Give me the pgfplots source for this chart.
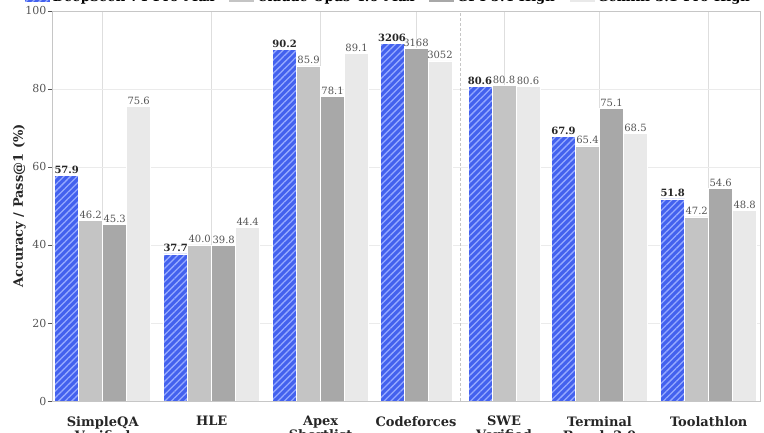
\documentclass[border=0pt]{standalone}
\usepackage{fontspec}
\setmainfont{DejaVu Serif}
\usepackage{pgfplots}
\pgfplotsset{compat=1.18}
\usetikzlibrary{patterns.meta}
\definecolor{dsblue}{RGB}{67,97,238}
\definecolor{dshatch}{RGB}{150,170,255}
\definecolor{claude}{RGB}{196,196,196}
\definecolor{gpt}{RGB}{168,168,168}
\definecolor{gem}{RGB}{233,233,233}
\definecolor{txtgray}{RGB}{85,85,85}
\definecolor{gridc}{RGB}{222,222,222}
\begin{document}
\begin{tikzpicture}
\begin{axis}[
  at={(0,0)}, anchor=south west,
  scale only axis, width=708pt, height=390pt,
  xmin=0, xmax=708, ymin=0, ymax=100,
  enlargelimits=false,
  ytick={0,20,40,60,80,100},
  ytick pos=left,
  xtick={50.7,159.7,268.6,364,452,547.5,656.7},
  xticklabels={
    {SimpleQA\\Verified},
    {HLE\\{\fontsize{8}{9}\selectfont\mdseries\textcolor{txtgray}{(Pass@1)}}},
    {Apex\\Shortlist},
    {Codeforces\\{\fontsize{8}{9}\selectfont\mdseries\textcolor{txtgray}{(Rating)}}},
    {SWE\\Verified},
    {Terminal\\Bench 2.0},
    {Toolathlon\\{\fontsize{8}{9}\selectfont\mdseries\textcolor{txtgray}{(Pass@1)}}}},
  xtick style={draw=none},
  ytick style={color=txtgray, line width=0.8pt},
  major tick length=4pt,
  tick align=outside,
  axis line style={draw=gray!45, line width=0.8pt},
  xmajorgrids, ymajorgrids,
  x grid style={gridc, line width=0.8pt},
  y grid style={gridc!60, line width=0.6pt},
  /pgf/number format/assume math mode=true,
  yticklabel style={font=\fontsize{11}{13}\selectfont, text=txtgray, inner sep=1.5pt},
  xticklabel style={align=center, font=\fontsize{13}{14}\selectfont\bfseries, inner sep=0pt, yshift=-11pt, text=black!85},
  ylabel={Accuracy / Pass@1 (\%)},
  every axis y label/.style={at={(axis description cs:-0.046,0.5)}, rotate=90, anchor=center, font=\fontsize{13}{15}\selectfont\bfseries, text=black!85},
  legend style={at={(axis description cs:0.5,1)}, anchor=south, xshift=-18pt, yshift=3.5pt, draw=none, fill=none, legend columns=4, font=\fontsize{13}{15}\selectfont\bfseries, /tikz/every even column/.append style={column sep=12pt}},
  legend image code/.code={\path[#1] (0pt,-4.5pt) rectangle (26pt,4.5pt);},
]
\addplot[ybar, bar width=24, bar shift=0pt, fill=dsblue, draw=white, line width=0.8pt,
  postaction={pattern={Lines[angle=45,distance=4.7pt,line width=1.3pt]}, pattern color=dshatch},
  point meta=explicit symbolic, nodes near coords,
  nodes near coords style={font=\fontsize{10}{12}\selectfont\bfseries, text=black!85, anchor=south, inner sep=1.5pt}]
  coordinates {(14.7,57.9)[57.9] (123.7,37.7)[37.7] (232.6,90.2)[90.2] (340,91.6)[3206] (428,80.6)[80.6] (511.5,67.9)[67.9] (620.7,51.8)[51.8]};
\addlegendentry{DeepSeek-V4-Pro-Max}
\addplot[ybar, bar width=24, bar shift=0pt, fill=claude, draw=white, line width=0.8pt,
  point meta=explicit symbolic, nodes near coords,
  nodes near coords style={font=\fontsize{10}{12}\selectfont, text=txtgray, anchor=south, inner sep=1.5pt}]
  coordinates {(38.7,46.2)[46.2] (147.7,40.0)[40.0] (256.6,85.9)[85.9] (452,80.8)[80.8] (535.5,65.4)[65.4] (644.7,47.2)[47.2]};
\addlegendentry{Claude-Opus-4.6-Max}
\addplot[ybar, bar width=24, bar shift=0pt, fill=gpt, draw=white, line width=0.8pt,
  point meta=explicit symbolic, nodes near coords,
  nodes near coords style={font=\fontsize{10}{12}\selectfont, text=txtgray, anchor=south, inner sep=1.5pt}]
  coordinates {(62.7,45.3)[45.3] (171.7,39.8)[39.8] (280.6,78.1)[78.1] (364,90.5)[3168] (559.5,75.1)[75.1] (668.7,54.6)[54.6]};
\addlegendentry{GPT-5.4-High}
\addplot[ybar, bar width=24, bar shift=0pt, fill=gem, draw=white, line width=0.8pt,
  point meta=explicit symbolic, nodes near coords,
  nodes near coords style={font=\fontsize{10}{12}\selectfont, text=txtgray, anchor=south, inner sep=1.5pt}]
  coordinates {(86.7,75.6)[75.6] (195.7,44.4)[44.4] (304.6,89.1)[89.1] (388,87.2)[3052] (476,80.6)[80.6] (583.5,68.5)[68.5] (692.7,48.8)[48.8]};
\addlegendentry{Gemini-3.1-Pro-High}
\addplot[forget plot, gray!45, line width=0.8pt, dash pattern=on 3pt off 2pt, mark=none] coordinates {(408,0) (408,100)};
\end{axis}
\pgfresetboundingbox
\useasboundingbox (-52pt,-32pt) rectangle (712pt,401pt);
\end{tikzpicture}
\end{document}
